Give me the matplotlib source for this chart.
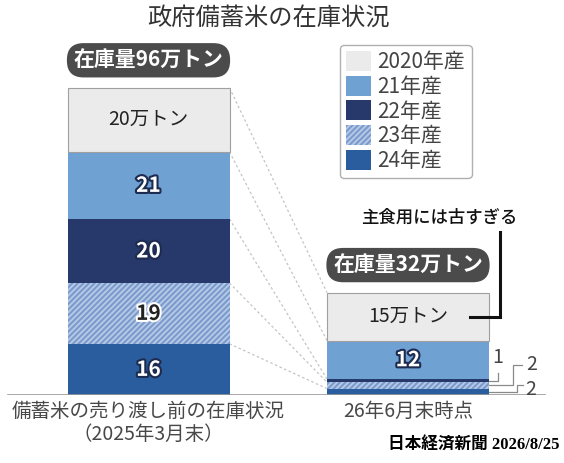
import matplotlib
matplotlib.use('Agg')
import numpy as np
import matplotlib.pyplot as plt
import matplotlib.patheffects as pe
from matplotlib.patches import Patch

plt.rcParams['font.family'] = ['Noto Sans CJK JP', 'DejaVu Sans']
plt.rcParams['hatch.linewidth'] = 1.6

# data (万トン), listed from the top of the stack down
years = ['2020年産', '21年産', '22年産', '23年産', '24年産']
before = [20, 21, 20, 19, 16]   # 2025年3月末
after = [15, 12, 1, 2, 2]       # 26年6月末時点
categories = ['備蓄米の売り渡し前の在庫状況\n（2025年3月末）', '26年6月末時点']
totals = [sum(before), sum(after)]

colors = ['#ebebeb', '#6fa1d3', '#27396b', '#b9cde8', '#2a5d9e']
hatches = [None, None, None, '//////', None]
hatch_color = '#7d9ccd'

fig = plt.figure(figsize=(5.64, 4.63), dpi=100)
ax = fig.add_axes([0, 68 / 463, 1, 320 / 463])
ax.set_ylim(0, 100)
x0, step = 148.5, 259.5
ax.set_xlim(-x0 / step, (564 - x0) / step)
width = 162 / step


def px(x):
    # pixel column -> x data
    return (x - x0) / step


# stacked bars, bottom segment (24年産) first
cum_l = np.cumsum(before[::-1])
cum_r = np.cumsum(after[::-1])
n = len(years)
for k in range(n):
    i = n - 1 - k
    bottoms = [cum_l[k] - before[i], cum_r[k] - after[i]]
    ec = '#a0a0a0' if i == 0 else (hatch_color if hatches[i] else colors[i])
    lw = 0.8 if i == 0 else 0
    ax.bar([0, 1], [before[i], after[i]], bottom=bottoms, width=width,
           color=colors[i], hatch=hatches[i], edgecolor=ec, linewidth=lw,
           zorder=2)

# dashed connectors between the two stacks
for yl, yr in zip(cum_l, cum_r):
    ax.plot([width / 2, 1 - width / 2], [yl, yr], color='#c4c4c4',
            lw=0.9, ls=(0, (2, 2)), zorder=1)

ax.axhline(0, xmin=8 / 564, xmax=545 / 564, color='#9a9a9a', lw=1.2, zorder=3)

# labels inside segments
white_lbl = [pe.withStroke(linewidth=3, foreground='#1d2b50')]
light_lbl = [pe.withStroke(linewidth=3, foreground='white')]
for b, vals in enumerate([before, after]):
    cum = np.cumsum(vals[::-1])[::-1]
    for i, v in enumerate(vals):
        if v < 10:
            continue
        yc = cum[i] - v / 2
        if i == 0:
            ax.text(b, yc, f'{v}万トン', ha='center', va='center',
                    fontsize=14, color='#222', zorder=4)
        elif i == 3:
            ax.text(b, yc, str(v), ha='center', va='center', fontsize=15,
                    fontweight='bold', color='#222', path_effects=light_lbl,
                    zorder=4)
        else:
            ax.text(b, yc, str(v), ha='center', va='center', fontsize=15,
                    fontweight='bold', color='white', path_effects=white_lbl,
                    zorder=4)

# small segments of the right stack, labelled outside
edge = 1 + width / 2
gray = '#8a8a8a'
y22 = cum_r[2] - after[2] / 2
ax.text(px(498), 11.6, str(after[2]), ha='center', va='center',
        fontsize=14, color='#444')
ax.plot([edge, px(498), px(498)], [y22, y22, 7.0], color=gray, lw=0.9)
y23 = cum_r[1] - after[3] / 2
ax.text(px(532), 9.4, str(after[3]), ha='center', va='center',
        fontsize=14, color='#444')
ax.plot([edge, px(513), px(513), px(522)], [y23, y23, 9.4, 9.4],
        color=gray, lw=0.9)
y24 = cum_r[0] - after[4] / 2
ax.text(px(531), 1.7, str(after[4]), ha='center', va='center',
        fontsize=14, color='#444')
ax.plot([edge, px(517), px(517), px(523)], [y24, y24, 3.1, 3.1],
        color=gray, lw=0.9)

# "too old for staple use" bracket
y20 = totals[1] - after[0] / 2
ax.text(px(439), 55.3, '主食用には古すぎる', ha='center', va='center',
        fontsize=12.5, fontweight='medium', color='#111')
ax.plot([px(470), px(500), px(500)], [y20, y20, 51], color='#111', lw=2.2,
        solid_joinstyle='miter')

# total pills
for b, t in enumerate(totals):
    ax.text(b, t + 8.6, f'在庫量{t}万トン', ha='center', va='center',
            fontsize=15, fontweight='bold', color='white', zorder=5,
            bbox=dict(boxstyle='round,pad=0.32,rounding_size=0.8',
                      fc='#4b4b4b', ec='none'))

ax.set_xticks([0, 1], categories, fontsize=14, color='#484848', linespacing=1.15)
ax.tick_params(axis='x', length=0, pad=4)
ax.set_yticks([])
for s in ax.spines.values():
    s.set_visible(False)

handles = [Patch(facecolor=c, hatch=h, edgecolor=(hatch_color if h else 'none'),
                 linewidth=0) for c, h in zip(colors, hatches)]
leg = fig.legend(handles, years, loc='upper left',
                 bbox_to_anchor=(340 / 564, 1 - 45 / 463), borderaxespad=0,
                 fontsize=15, handlelength=1.2, handleheight=1.1,
                 labelspacing=0.12, handletextpad=0.3, borderpad=0.3,
                 fancybox=True, edgecolor='#b0b0b0', framealpha=1)
for t in leg.get_texts():
    t.set_color('#444')

fig.text(268 / 564, 1 - 18 / 463, '政府備蓄米の在庫状況', ha='center', va='center',
         fontsize=17.5, color='#333')
fig.text(559 / 564, 1 - 445 / 463, '日本経済新聞 2026/8/25', ha='right',
         va='center', fontsize=12, fontweight='bold', color='black',
         family=['Liberation Serif', 'Noto Sans CJK JP'])

fig.savefig('out.png', dpi=100)
